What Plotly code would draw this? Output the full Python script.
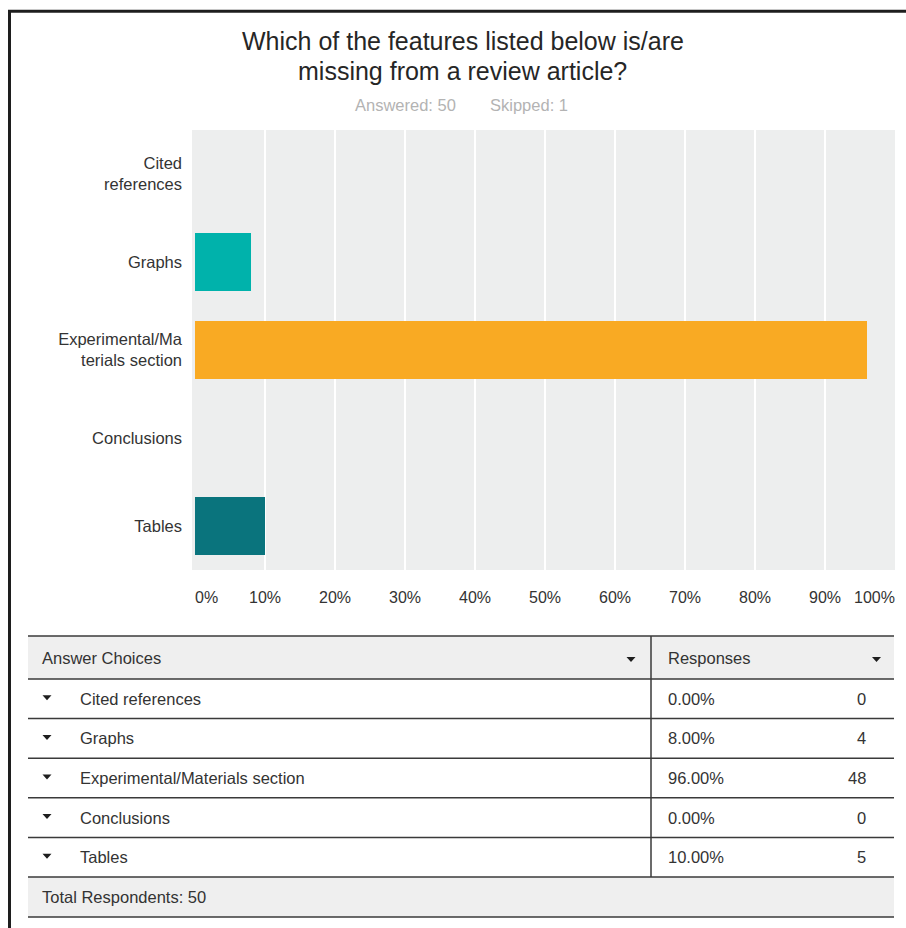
import plotly.graph_objects as go

# Survey results
categories = ["Cited references", "Graphs", "Experimental/Materials section",
              "Conclusions", "Tables"]
axis_labels = ["Cited<br>references", "Graphs", "Experimental/Ma<br>terials section",
               "Conclusions", "Tables"]
percents = [0.0, 8.0, 96.0, 0.0, 10.0]
counts = [0, 4, 48, 0, 5]
answered = 50
skipped = 1
total_respondents = 50
bar_colors = ["#6fc6c9", "#00b2ab", "#f9aa23", "#e7523f", "#0a747d"]
x_ticks = [0, 10, 20, 30, 40, 50, 60, 70, 80, 90, 100]
x_tick_labels = [f"{t}%" for t in x_ticks]

W, H = 906, 928
FONT = "Liberation Sans, Arial, Helvetica, sans-serif"
TEXT = "#333333"
BODY = 16.5
PAD = 2  # annotation box padding, compensated so text edges land on target


def px(x):
    return x / W


def py(y):
    return 1 - y / H


def label(text, x, y, anchor="left", size=BODY, color=TEXT, xref="paper"):
    shift = {"left": -PAD, "right": PAD, "center": 0}[anchor]
    return dict(text=text, x=x, y=y, xref=xref, yref="paper", xanchor=anchor,
                yanchor="middle", xshift=shift, showarrow=False,
                font=dict(family=FONT, size=size, color=color))


fig = go.Figure()
fig.add_trace(go.Bar(
    x=percents,
    y=axis_labels,
    orientation="h",
    marker=dict(color=bar_colors, line=dict(width=0)),
    hoverinfo="skip",
    showlegend=False,
))

shapes = []
annotations = []

# frame edges
shapes.append(dict(type="line", xref="paper", yref="paper",
                   x0=px(8), x1=px(906), y0=py(11.3), y1=py(11.3),
                   line=dict(color="#1e1e1e", width=3)))
shapes.append(dict(type="line", xref="paper", yref="paper",
                   x0=px(9.5), x1=px(9.5), y0=py(10), y1=py(928),
                   line=dict(color="#1e1e1e", width=3)))

# title and subtitle
annotations.append(label("Which of the features listed below is/are", px(463), py(41.5),
                         anchor="center", size=25, color="#262626"))
annotations.append(label("missing from a review article?", px(463), py(71.5),
                         anchor="center", size=25, color="#262626"))
annotations.append(label(f"Answered: {answered}", px(355), py(105), color="#b3b3b3"))
annotations.append(label(f"Skipped: {skipped}", px(490), py(105), color="#b3b3b3"))

# x tick labels: end labels pulled inside the plot edges
for t, lab in zip(x_ticks, x_tick_labels):
    anchor = "left" if t == x_ticks[0] else ("right" if t == x_ticks[-1] else "center")
    annotations.append(label(lab, t, py(597), anchor=anchor, size=16, xref="x"))

# summary table
TL, TR, TDIV = 28, 894, 651
HEAD_TOP, HEAD_BOT = 636, 679
ROW_H = 39.6
rows_bottom = HEAD_BOT + ROW_H * len(categories)
FOOT_BOT = rows_bottom + 40
LINE = dict(color="#3a3a3a", width=1.5)


def tri(cx, cy, w=9, h=5):
    return dict(type="path", xref="paper", yref="paper",
                path=(f"M {px(cx - w / 2)},{py(cy - h / 2)} L {px(cx + w / 2)},{py(cy - h / 2)} "
                      f"L {px(cx)},{py(cy + h / 2)} Z"),
                fillcolor="#1e1e1e", line=dict(width=0))


shapes.append(dict(type="rect", xref="paper", yref="paper",
                   x0=px(TL), x1=px(TR), y0=py(HEAD_TOP), y1=py(HEAD_BOT),
                   fillcolor="#efefef", line=dict(width=0), layer="below"))
shapes.append(dict(type="rect", xref="paper", yref="paper",
                   x0=px(TL), x1=px(TR), y0=py(rows_bottom), y1=py(FOOT_BOT),
                   fillcolor="#efefef", line=dict(width=0), layer="below"))
for yy in [HEAD_TOP, HEAD_BOT] + [HEAD_BOT + ROW_H * (i + 1) for i in range(len(categories))] + [FOOT_BOT]:
    shapes.append(dict(type="line", xref="paper", yref="paper",
                       x0=px(TL), x1=px(TR), y0=py(yy), y1=py(yy), line=LINE))
shapes.append(dict(type="line", xref="paper", yref="paper",
                   x0=px(TDIV), x1=px(TDIV), y0=py(HEAD_TOP), y1=py(rows_bottom), line=LINE))

head_mid = (HEAD_TOP + HEAD_BOT) / 2
annotations.append(label("Answer Choices", px(42), py(head_mid)))
annotations.append(label("Responses", px(668), py(head_mid)))
shapes.append(tri(631, head_mid + 2))
shapes.append(tri(876.5, head_mid + 2))

for i, (cat, pct, n) in enumerate(zip(categories, percents, counts)):
    mid = HEAD_BOT + ROW_H * (i + 0.5)
    shapes.append(tri(47, mid - 1))
    annotations.append(label(cat, px(80), py(mid)))
    annotations.append(label(f"{pct:.2f}%", px(668), py(mid)))
    annotations.append(label(str(n), px(866), py(mid), anchor="right"))

annotations.append(label(f"Total Respondents: {total_respondents}", px(42),
                         py((rows_bottom + FOOT_BOT) / 2)))

fig.update_layout(
    template="none",
    width=W, height=H, autosize=False,
    margin=dict(l=0, r=0, t=0, b=0),
    paper_bgcolor="white",
    plot_bgcolor="#edeeee",
    font=dict(family=FONT, size=BODY, color=TEXT),
    bargap=0.34,
    xaxis=dict(domain=[px(192), px(895)], range=[-0.43, 100],
               tickvals=x_ticks[1:-1], showticklabels=False,
               showgrid=True, gridcolor="white", gridwidth=2,
               zeroline=False, showline=False, ticks="", automargin=False,
               fixedrange=True),
    yaxis=dict(domain=[py(570), py(130)], autorange="reversed",
               categoryorder="array", categoryarray=axis_labels,
               showgrid=False, zeroline=False, showline=False, ticks="",
               ticklabelstandoff=9, automargin=False, fixedrange=True,
               tickfont=dict(family=FONT, size=BODY, color=TEXT)),
    shapes=shapes,
    annotations=annotations,
)

fig.write_html("out.html")
